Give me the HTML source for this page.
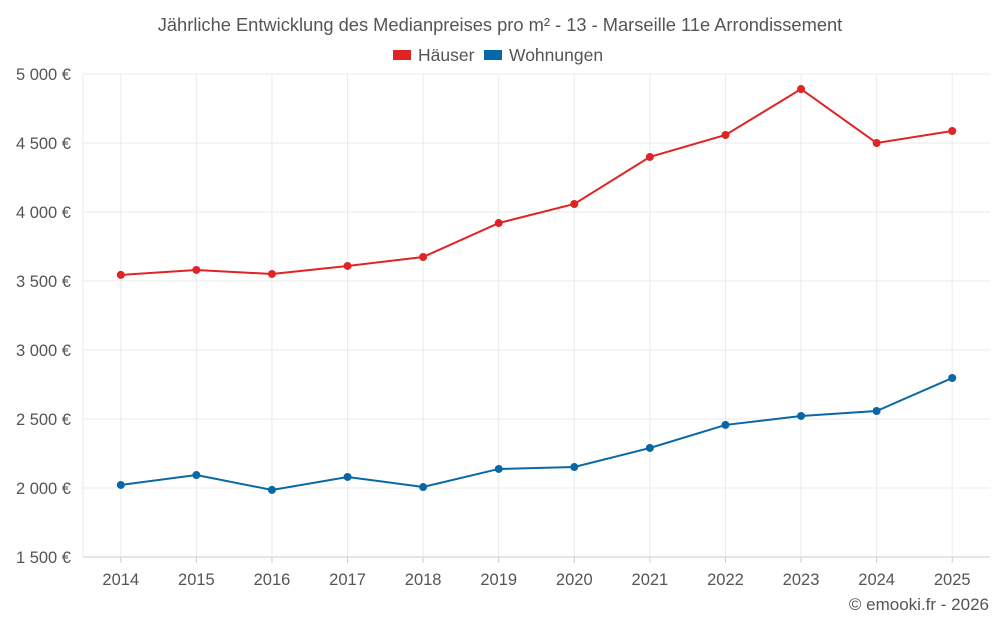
<!DOCTYPE html>
<html><head><meta charset="utf-8">
<style>
body{margin:0;background:#fff;font-family:"Liberation Sans",sans-serif;}
svg text{font-family:"Liberation Sans",sans-serif;}
</style></head>
<body>
<svg id="chart" width="1000" height="625" viewBox="0 0 1000 625" xmlns="http://www.w3.org/2000/svg">
<text x="500" y="31" text-anchor="middle" font-size="18.3" fill="#555">Jährliche Entwicklung des Medianpreises pro m² - 13 - Marseille 11e Arrondissement</text>
<g>
<g><rect x="393" y="50" width="18" height="10" fill="#e02424"/><text x="418" y="61" font-size="17.5" fill="#555">Häuser</text></g>
<g><rect x="484" y="50" width="18" height="10" fill="#0868a6"/><text x="509" y="61" font-size="17.5" fill="#555">Wohnungen</text></g>
</g>
<g id="grid"></g>
<g id="axes"></g>
<g id="series"></g>
<text x="989" y="610" text-anchor="end" font-size="17" fill="#555">© emooki.fr - 2026</text>
</svg>
<script>
const years=["2014","2015","2016","2017","2018","2019","2020","2021","2022","2023","2024","2025"];
const haeuser=[3544,3580,3551,3609,3674,3920,4058,4399,4558,4891,4500,4587];
const wohnungen=[2022,2094,1986,2080,2007,2138,2152,2290,2457,2522,2558,2797];
const yTicks=[1500,2000,2500,3000,3500,4000,4500,5000];
const yTickLabels=["1 500 €","2 000 €","2 500 €","3 000 €","3 500 €","4 000 €","4 500 €","5 000 €"];
const NS="http://www.w3.org/2000/svg";
const L=83,R=990,T=74,B=557,yMin=1500,yMax=5000;
const band=(R-L)/years.length;
const x=i=>L+band*(i+0.5);
const y=v=>B-(v-yMin)/(yMax-yMin)*(B-T);
function mk(tag,attrs,parent){const e=document.createElementNS(NS,tag);for(const k in attrs)e.setAttribute(k,attrs[k]);parent.appendChild(e);return e;}
const grid=document.getElementById('grid'),axes=document.getElementById('axes'),series=document.getElementById('series');
yTicks.forEach((t,i)=>{
 const ln=mk('line',{x1:L,x2:R,y1:y(t),y2:y(t),stroke:i==0?'#ccc':'#ebebeb','stroke-width':1},grid);
 
 
 const tx=mk('text',{x:71,y:y(t)+6,'text-anchor':'end','font-size':16.5,fill:'#555'},axes);
 tx.textContent=yTickLabels[i];
 
 
});
const lb=mk('line',{x1:L,x2:L,y1:T,y2:B,stroke:'#ebebeb','stroke-width':1},grid);


years.forEach((yr,i)=>{
 const ln=mk('line',{x1:x(i),x2:x(i),y1:T,y2:B,stroke:'#ebebeb','stroke-width':1},grid);
 
 
 const tk=mk('line',{x1:x(i),x2:x(i),y1:B,y2:B+6,stroke:'#ccc'},axes);
 
 
 const tx=mk('text',{x:x(i),y:585,'text-anchor':'middle','font-size':16.5,fill:'#555'},axes);
 tx.textContent=yr;
 
 
});
function draw(vals,color,name){
 const g=mk('g',{},series);
 
 
 const pl=mk('polyline',{points:vals.map((v,i)=>x(i)+','+y(v)).join(' '),fill:'none',stroke:color,'stroke-width':2},g);
 
 
 vals.forEach((v,i)=>{
  const c=mk('circle',{cx:x(i),cy:y(v),r:4,fill:color},g);
  
  
 });
}
draw(haeuser,'#e02424','haeuser');
draw(wohnungen,'#0868a6','wohnungen');
</script>
</body></html>
